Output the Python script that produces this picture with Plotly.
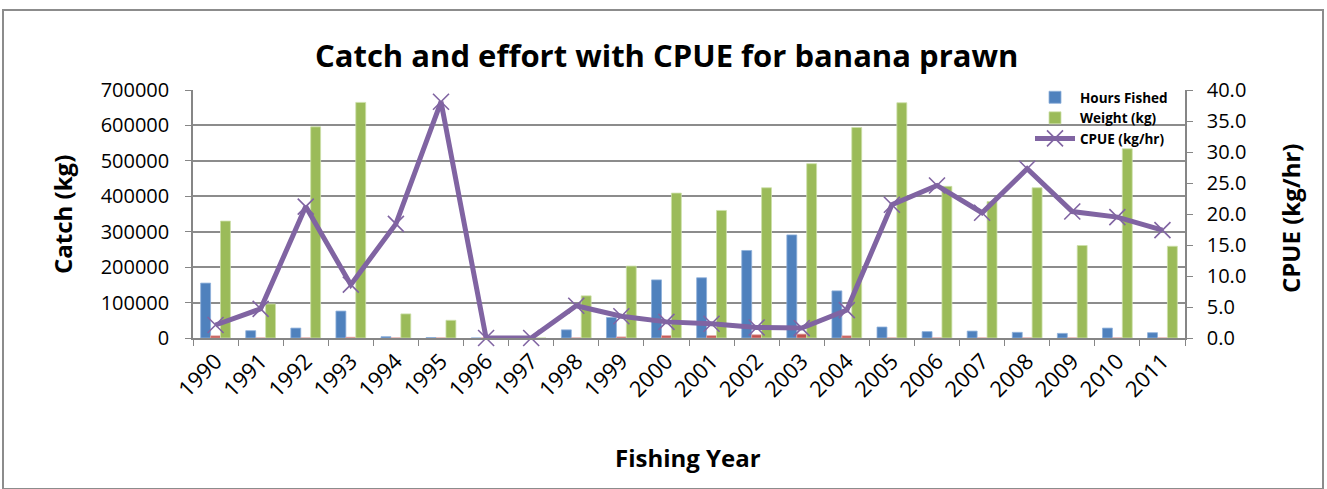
import plotly.graph_objects as go

# Fishing years and series
years = [str(y) for y in range(1990, 2012)]
hours_fished = [155000, 20600, 28000, 76000, 3700, 1400, 0, 0, 23000, 58000,
                164000, 170000, 247000, 291000, 133000, 31000, 18000, 19500,
                16000, 13000, 28000, 15000]
minor_series = [6000, 0, 0, 2000, 0, 0, 0, 0, 0, 3000,
                6500, 6500, 9000, 11000, 6000, 0, 0, 0,
                0, 0, 0, 0]
weight_kg = [330000, 96000, 596000, 665000, 68000, 50000, 0, 0, 119000, 203000,
             409000, 360000, 424000, 492000, 594000, 664000, 428000, 385000,
             424000, 261000, 534000, 259000]
cpue = [2.1, 4.7, 21.2, 8.6, 18.4, 38.1, 0.0, 0.0, 5.2, 3.5,
        2.6, 2.3, 1.7, 1.6, 4.5, 21.5, 24.6, 20.2, 27.3, 20.4, 19.5, 17.4]

left_ticks = [0, 100000, 200000, 300000, 400000, 500000, 600000, 700000]
right_ticks = [0, 5, 10, 15, 20, 25, 30, 35, 40]

FONT = "Open Sans"
W, H = 1327, 489
L, R, T, B = 193, 142, 90, 151

fig = go.Figure()
fig.add_trace(go.Bar(x=years, y=hours_fished, name="Hours Fished",
                     marker=dict(color="#4F81BD", line=dict(color="#8EB0DA", width=0.8))))
fig.add_trace(go.Bar(x=years, y=minor_series, name="Series3", showlegend=False,
                     marker=dict(color="#C0504D", line=dict(color="#E3A3A1", width=0.8))))
fig.add_trace(go.Bar(x=years, y=weight_kg, name="Weight (kg)",
                     marker=dict(color="#9BBB59", line=dict(color="#CDE0A9", width=0.8))))
fig.add_trace(go.Scatter(x=years, y=cpue, name="CPUE (kg/hr)", yaxis="y2",
                         mode="lines+markers", cliponaxis=False,
                         line=dict(color="#8064A2", width=5),
                         marker=dict(symbol="x-thin", size=16,
                                     line=dict(color="#8064A2", width=1.6))))

pw = W - L - R
ph = H - T - B


def px_to_paper_x(px):
    return (px - L) / pw


def px_to_paper_y(py):
    return (H - B - py) / ph


def label(text, px, py, size, angle=0):
    return dict(text=text, textangle=angle, xref="paper", yref="paper",
                x=px_to_paper_x(px), y=px_to_paper_y(py),
                xanchor="center", yanchor="middle", showarrow=False,
                font=dict(size=size, family=FONT, color="black"))


fig.update_layout(
    width=W, height=H,
    margin=dict(l=L, r=R, t=T, b=B),
    paper_bgcolor="white", plot_bgcolor="white",
    barmode="group", bargap=0.34, bargroupgap=0,
    font=dict(family=FONT, color="black"),
    showlegend=True,
    legend=dict(x=px_to_paper_x(1030), y=px_to_paper_y(82), xanchor="left", yanchor="top",
                bgcolor="rgba(0,0,0,0)", font=dict(size=13.5, family=FONT, weight="bold"),
                tracegroupgap=0, itemwidth=40, traceorder="normal"),
    xaxis=dict(type="category", range=[-0.5, len(years) - 0.5],
               tickangle=-45, tickson="boundaries",
               ticks="outside", ticklen=6, tickcolor="#868686",
               showline=True, linecolor="#868686", linewidth=1.5,
               showgrid=False, tickfont=dict(size=22, family=FONT)),
    yaxis=dict(range=[0, 700000], tickvals=left_ticks,
               ticktext=[str(v) for v in left_ticks],
               ticks="outside", ticklen=6, tickcolor="#868686",
               ticklabelstandoff=12,
               showline=True, linecolor="#868686", linewidth=1.5,
               showgrid=True, gridcolor="#8C8C8C", gridwidth=1.5,
               zeroline=False, tickfont=dict(size=20, family=FONT)),
    yaxis2=dict(range=[0, 40], tickvals=right_ticks,
                ticktext=[f"{v:.1f}" for v in right_ticks],
                overlaying="y", side="right",
                ticks="outside", ticklen=6, tickcolor="#868686",
                ticklabelstandoff=10,
                showline=True, linecolor="#868686", linewidth=1.5,
                showgrid=False, zeroline=False,
                tickfont=dict(size=20, family=FONT)),
    annotations=[
        label("<b>Catch and effort with CPUE for banana prawn</b>", 666, 55, 31),
        label("<b>Catch (kg)</b>", 62, 215, 24, -90),
        label("<b>CPUE (kg/hr)</b>", 1290, 219, 24, -90),
        label("<b>Fishing Year</b>", 688, 457, 24),
    ],
    shapes=[
        dict(type="rect", xref="paper", yref="paper",
             x0=px_to_paper_x(3), x1=px_to_paper_x(1323),
             y0=px_to_paper_y(489), y1=px_to_paper_y(10),
             line=dict(color="#8C8C8C", width=2), layer="below"),
    ],
)

fig.write_html("out.html")
